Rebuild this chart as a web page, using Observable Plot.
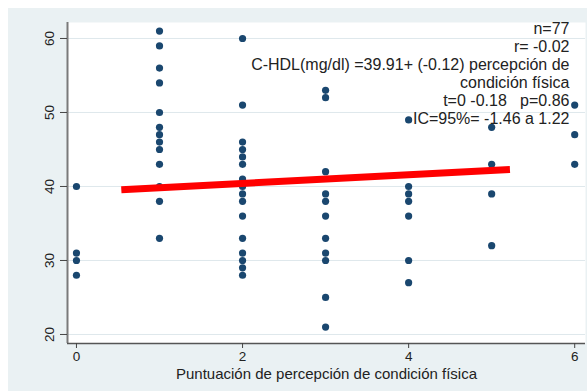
<!DOCTYPE html>
<html>
<head>
<meta charset="utf-8">
<script src="https://cdn.jsdelivr.net/npm/d3@7"></script>
<script src="https://cdn.jsdelivr.net/npm/@observablehq/plot@0.6"></script>
<style>
  html, body { margin: 0; padding: 0; background: #ffffff; width: 587px; height: 391px; overflow: hidden; }
  #wrap { position: absolute; left: 8px; top: 8px; width: 579px; height: 383px; background: #eaf1f3; }
  svg text { white-space: pre; }
</style>
</head>
<body>
<div id="wrap"></div>
<script>
// Scores (x) and C-HDL values (y) per score
const score0 = [40, 31, 30, 28];
const score1 = [61, 59, 56, 54, 50, 48, 47, 46, 45, 43, 40, 38, 33];
const score2 = [60, 51, 46, 45, 44, 43, 41, 40, 39, 38, 36, 33, 31, 30, 29, 28];
const score3 = [53, 52, 42, 39, 38, 36, 33, 31, 30, 25, 21];
const score4 = [49, 40, 39, 38, 36, 30, 27];
const score5 = [48, 43, 39, 32];
const score6 = [51, 47, 43];
const groups = [score0, score1, score2, score3, score4, score5, score6];

// Fitted line endpoints
const fitX = [0.54, 5.22];
const fitY = [39.55, 42.3];

const xTicks = [0, 2, 4, 6];
const yTicks = [20, 30, 40, 50, 60];

const xLabel = "Puntuación de percepción de condición física";
const annotation = [
  "n=77",
  "r= -0.02",
  "C-HDL(mg/dl) =39.91+ (-0.12) percepción de",
  "condición física",
  "t=0 -0.18   p=0.86",
  "IC=95%= -1.46 a 1.22"
];

const points = groups.flatMap((vals, s) => vals.map(v => ({x: s, y: v})));
const fit = fitX.map((x, i) => ({x, y: fitY[i]}));

const chart = Plot.plot({
  width: 579,
  height: 383,
  marginLeft: 59,
  marginRight: 2,
  marginTop: 14,
  marginBottom: 48,
  style: {background: "transparent", fontFamily: "'Liberation Sans', Arial, sans-serif", color: "#222"},
  x: {domain: [-0.108, 6.13]},
  y: {domain: [18.78, 62.16]},
  marks: [
    Plot.frame({fill: "white", stroke: null}),
    Plot.gridY(yTicks, {stroke: "#dfe8ec", strokeOpacity: 1, strokeWidth: 1}),
    Plot.ruleX([-0.108], {stroke: "#7a7a7a", strokeWidth: 2}),
    Plot.ruleY([18.78], {stroke: "#555", strokeWidth: 1.5}),
    Plot.axisY(yTicks, {tickSize: 7, tickPadding: 7, tickRotate: -90, fontSize: 13.5, label: null, stroke: "#444"}),
    Plot.axisX(xTicks, {tickSize: 5, tickPadding: 3, fontSize: 13.5, label: null, stroke: "#444"}),
    Plot.text([xLabel], {frameAnchor: "bottom", dy: 35, fontSize: 15, fill: "#222"}),
    Plot.dot(points, {x: "x", y: "y", r: 3.6, fill: "#1a476f", stroke: null}),
    Plot.line(fit, {x: "x", y: "y", stroke: "#ff0000", strokeWidth: 7, strokeLinecap: "butt"}),
    Plot.text([annotation.join("\n")], {frameAnchor: "top-right", dx: -16, dy: -1, lineHeight: 1.125, fontSize: 16, fill: "#222", textAnchor: "end"})
  ]
});
document.getElementById("wrap").appendChild(chart);
</script>
</body>
</html>
